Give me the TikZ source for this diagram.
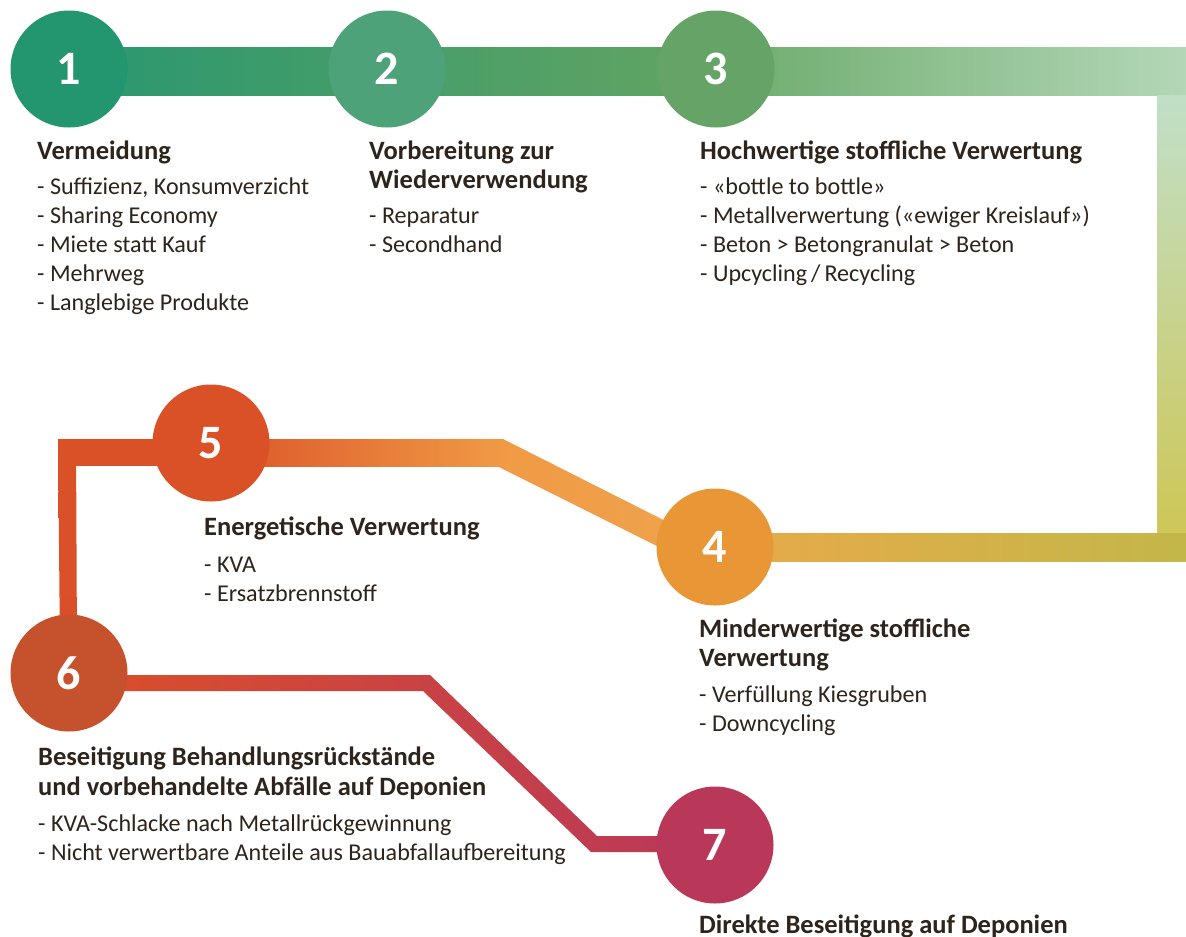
\documentclass[tikz,border=0pt]{standalone}
\usepackage{fontspec}
\setmainfont{Carlito}
\usetikzlibrary{calc}
\definecolor{cA}{HTML}{23956F}
\definecolor{cB}{HTML}{4EA27A}
\definecolor{cC}{HTML}{65A466}
\definecolor{cD}{HTML}{E99636}
\definecolor{cE}{HTML}{DA5128}
\definecolor{cF}{HTML}{C5522D}
\definecolor{cG}{HTML}{B9385A}
\definecolor{txt}{HTML}{2E241C}
\definecolor{gA}{HTML}{2A976F}
\definecolor{gB}{HTML}{63A463}
\definecolor{gC}{HTML}{6CAB6C}
\definecolor{gD}{HTML}{B4D7B7}
\definecolor{gE}{HTML}{C1DFC8}
\definecolor{gF}{HTML}{CEC758}
\definecolor{gG}{HTML}{E8AA48}
\definecolor{gH}{HTML}{C3B74A}
\definecolor{gI}{HTML}{DB5529}
\definecolor{gJ}{HTML}{F09A45}
\definecolor{gK}{HTML}{EFA44D}
\definecolor{gL}{HTML}{D84F2A}
\definecolor{gM}{HTML}{DB4F29}
\definecolor{gN}{HTML}{D3453A}
\begin{document}
\begin{tikzpicture}[x=1pt,y=-1pt,
  circ/.style={circle,minimum size=117pt,inner sep=0pt,text=white,font=\bfseries\fontsize{48}{48}\selectfont},
  head/.style={anchor=base west,inner sep=0pt,text=txt,font=\bfseries\fontsize{26.5}{29}\selectfont},
  item/.style={anchor=base west,inner sep=0pt,text=txt,font=\fontsize{24.1}{29}\selectfont}]
\useasboundingbox (0,0) rectangle (1186,937);
\fill[white] (0,0) rectangle (1186,937);
% route coordinates
\coordinate (p1) at (69,69);
\coordinate (p2) at (387,69);
\coordinate (p3) at (716,69);
\coordinate (p4) at (715,547);
\coordinate (p5) at (211,443);
\coordinate (p6) at (69,673);
\coordinate (p7) at (715,845);
% top bar 1-2-3
\shade[left color=gA, right color=gB] (69,47) rectangle (716,95);
% 3 -> right edge
\shade[left color=gC, right color=gD] (716,47) rectangle (1186,95);
% right vertical
\shade[top color=gE, bottom color=gF] (1157,95) rectangle (1186,533);
% bottom bar to 4
\shade[left color=gG, right color=gH] (715,533) rectangle (1186,561);
% diagonal 4 -> 5
\shade[left color=gJ, right color=gK] (503,439) -- (715,546) -- (715,575) -- (497,466) -- cycle;
% horizontal 5 -> diagonal
\shade[left color=gI, right color=gJ] (211,439) rectangle (503,466);
% left part 5 -> 6
\fill[cE] (211,439) -- (58,439) -- (58,466) -- (211,466) -- cycle;
\shade[top color=cE, bottom color=gL] (58,439) -- (76,439) -- (77,650) -- (60,650) -- cycle;
% 6 -> 7
\shade[left color=gM, middle color=gN, right color=cG]
  (69,675) -- (430,675) -- (597,836) -- (715,836) -- (715,852) -- (591,852) -- (423,691) -- (69,691) -- cycle;
% circles
\node[circ, fill=cA] (n1) at (p1) {1};
\node[circ, fill=cB] (n2) at (p2) {2};
\node[circ, fill=cC] (n3) at (p3) {3};
\node[circ, fill=cD] (n4) at (p4) {4};
\node[circ, fill=cE] (n5) at (p5) {5};
\node[circ, fill=cF] (n6) at (p6) {6};
\node[circ, fill=cG] (n7) at (p7) {7};
% block 1
\node[head] (h1) at (37,159) {Vermeidung};
\node[item] (i1a) at (37,194) {- Suffizienz, Konsumverzicht};
\node[item] (i1b) at (37,223) {- Sharing Economy};
\node[item] (i1c) at (37,252) {- Miete statt Kauf};
\node[item] (i1d) at (37,281) {- Mehrweg};
\node[item] (i1e) at (37,310) {- Langlebige Produkte};
% block 2
\node[head] (h2a) at (369,159) {Vorbereitung zur};
\node[head] (h2b) at (369,188) {Wiederverwendung};
\node[item] (i2a) at (369,223) {- Reparatur};
\node[item] (i2b) at (369,252) {- Secondhand};
% block 3
\node[head] (h3) at (700,159) {Hochwertige stoffliche Verwertung};
\node[item] (i3a) at (700,194) {- «bottle to bottle»};
\node[item] (i3b) at (700,223) {- Metallverwertung («ewiger Kreislauf»)};
\node[item] (i3c) at (700,252) {- Beton > Betongranulat > Beton};
\node[item] (i3d) at (700,281) {- Upcycling\,/\,Recycling};
% block 5
\node[head] (h5) at (204,535) {Energetische Verwertung};
\node[item] (i5a) at (204,572) {- KVA};
\node[item] (i5b) at (204,601) {- Ersatzbrennstoff};
% block 4
\node[head] (h4a) at (699,637) {Minderwertige stoffliche};
\node[head] (h4b) at (699,666) {Verwertung};
\node[item] (i4a) at (699,702) {- Verfüllung Kiesgruben};
\node[item] (i4b) at (699,731) {- Downcycling};
% block 6
\node[head] (h6a) at (38,765) {Beseitigung Behandlungsrückstände};
\node[head] (h6b) at (38,795) {und vorbehandelte Abfälle auf Deponien};
\node[item] (i6a) at (38,831) {- KVA-Schlacke nach Metallrückgewinnung};
\node[item] (i6b) at (38,860) {- Nicht verwertbare Anteile aus Bauabfallaufbereitung};
% block 7
\node[head] (h7) at (699,933) {Direkte Beseitigung auf Deponien};
\end{tikzpicture}
\end{document}
